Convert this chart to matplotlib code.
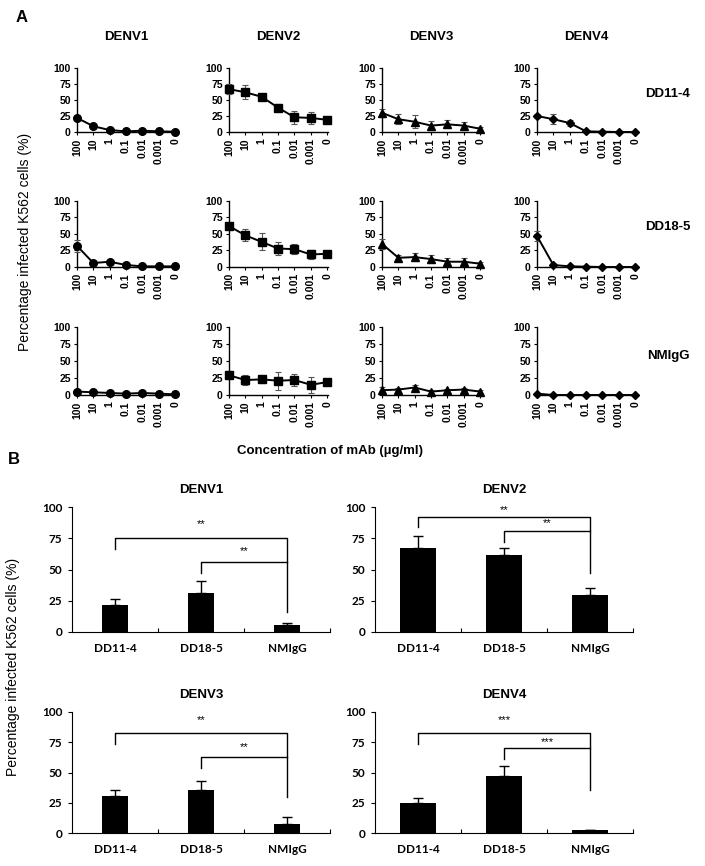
import matplotlib
matplotlib.use("Agg")
import matplotlib.pyplot as plt

plt.rcParams['font.family'] = ['Liberation Sans', 'DejaVu Sans']

W, H = 705, 866

serotypes = ["DENV1", "DENV2", "DENV3", "DENV4"]
mabs = ["DD11-4", "DD18-5", "NMIgG"]
conc_labels = ["100", "10", "1", "0.1", "0.01", "0.001", "0"]

# panel A: % infected per concentration (mean, sd) ; rows = mAb, cols = serotype
dd11_mean = [[22, 9, 3, 1, 2, 1, 0.5],
             [67, 62, 55, 38, 23, 22, 19],
             [30, 20, 16, 10, 12, 10, 5],
             [25, 20, 14, 1, 0.5, 0, 0]]
dd11_err = [[3, 3, 1, 1, 2, 1, 0],
            [8, 11, 5, 5, 10, 9, 2],
            [6, 8, 10, 7, 6, 6, 3],
            [3, 8, 4, 1, 0, 0, 0]]
dd18_mean = [[32, 6, 8, 3, 1, 1, 1],
             [62, 48, 38, 28, 27, 19, 20],
             [35, 14, 15, 12, 8, 8, 5],
             [47, 3, 1, 0.5, 0, 0, 0]]
dd18_err = [[9, 2, 1, 1, 0, 0, 0],
            [5, 9, 13, 10, 8, 7, 2],
            [8, 4, 6, 6, 5, 6, 3],
            [8, 3, 1, 0, 0, 0, 0]]
nmigg_mean = [[5, 4, 3, 2, 3, 2, 1],
              [29, 22, 23, 21, 22, 15, 19],
              [7, 8, 11, 5, 7, 8, 5],
              [2, 0, 0, 0, 0, 0, 0]]
nmigg_err = [[2, 2, 1, 1, 1, 1, 1],
             [6, 8, 5, 13, 9, 12, 2],
             [5, 3, 4, 3, 2, 3, 2],
             [1, 0, 0, 0, 0, 0, 0]]
markers = ["o", "s", "^", "D"]

# panel B: 100 ug/ml (mean, sd)
bar_mean = [[22, 31.5, 5.5], [67, 62, 29.5], [30.5, 35.5, 7.5], [25, 47, 2.5]]
bar_err = [[4.5, 9.5, 2], [9.5, 5.5, 6], [5, 7.5, 6], [4, 8.5, 0]]
stars = ["**", "**", "**", "***"]
# bracket heights: outer (drop, top), inner (drop, top), right drop
outer_br = [[66.7, 75.4], [84, 92], [73.5, 82.6], [73.5, 82.6]]
inner_br = [[47, 56], [72, 80.6], [53.7, 62.8], [61, 70.2]]
right_drop = [16, 47, 30, 35.5]
star_y = [[86, 65], [97.5, 87], [93.4, 71], [93, 75]]


def box(x0, ytop, x1, ybot):
    return [x0 / W, 1 - ybot / H, (x1 - x0) / W, (ybot - ytop) / H]


fig = plt.figure(figsize=(W / 100, H / 100), dpi=100)

# ---------------- panel A ----------------
colx = [77, 229, 382, 537]
row_top = [68, 201, 327]
row_bot = [132, 267, 395]
means = [dd11_mean, dd18_mean, nmigg_mean]
errs = [dd11_err, dd18_err, nmigg_err]

for r in range(3):
    for c in range(4):
        ax = fig.add_axes(box(colx[c], row_top[r], colx[c] + 99, row_bot[r]))
        x = list(range(len(conc_labels)))
        ms = 4.5 if markers[c] == "D" else 5.5
        ax.errorbar(x, means[r][c], yerr=errs[r][c], color="black", ecolor="#555555",
                    elinewidth=0.8, capsize=2.5, capthick=0.8, lw=1.4,
                    marker=markers[c], ms=ms, clip_on=False, zorder=3)
        ax.set_xlim(0, 6.05)
        ax.set_ylim(0, 100)
        ax.set_yticks([0, 25, 50, 75, 100])
        ax.set_xticks(x)
        ax.set_xticklabels(conc_labels, rotation=90, fontsize=7.5, fontweight="bold")
        for t in ax.get_yticklabels():
            t.set_fontsize(7.5)
            t.set_fontweight("bold")
        ax.tick_params(axis="both", direction="out", length=2.5, width=0.8, pad=2)
        for s in ["top", "right"]:
            ax.spines[s].set_visible(False)
        for s in ["left", "bottom"]:
            ax.spines[s].set_linewidth(1.0)
        if r == 0:
            ax.set_title(serotypes[c], fontsize=9.5, fontweight="bold", pad=20)

for r in range(3):
    fig.text(668 / W, 1 - [94, 227, 356][r] / H, mabs[r], fontsize=9.5,
             fontweight="bold", ha="center", va="center")

fig.text(22 / W, 1 - 18 / H, "A", fontsize=12, fontweight="bold", ha="center", va="center")
fig.text(25 / W, 1 - 242 / H, "Percentage infected K562 cells (%)", rotation=90,
         fontsize=10, ha="center", va="center")
fig.text(330 / W, 1 - 451 / H, "Concentration of mAb (\u00b5g/ml)", fontsize=9.5,
         fontweight="bold", ha="center", va="center")

# ---------------- panel B ----------------
bx0 = [72, 375]
bx1 = [330, 633]
b_top = [507, 712]
b_bot = [632, 833]
bar_w = [0.31, 0.42]

for i in range(4):
    r, c = divmod(i, 2)
    ax = fig.add_axes(box(bx0[c], b_top[r], bx1[c], b_bot[r]))
    xs = list(range(len(mabs)))
    ax.bar(xs, bar_mean[i], width=bar_w[c], color="black",
           yerr=[[0] * 3, bar_err[i]], capsize=3.5,
           error_kw=dict(elinewidth=1.0, capthick=1.0, ecolor="black"))
    ax.plot([0, 0, 2, 2], [outer_br[i][0], outer_br[i][1], outer_br[i][1], right_drop[i]],
            color="black", lw=1.0)
    ax.plot([1, 1, 2], [inner_br[i][0], inner_br[i][1], inner_br[i][1]], color="black", lw=1.0)
    ax.text(1, star_y[i][0], stars[i], ha="center", va="center", fontsize=8)
    ax.text(1.5, star_y[i][1], stars[i], ha="center", va="center", fontsize=8)
    ax.set_xlim(-0.5, 2.5)
    ax.set_ylim(0, 100)
    ax.set_yticks([0, 25, 50, 75, 100])
    ax.set_yticklabels(["0", "25", "50", "75", "100"], family="Lato", fontweight="bold", fontsize=8.5)
    ax.set_xticks([0.5, 1.5, 2.5])
    ax.set_xticklabels([])
    ax.set_xticks(xs, minor=True)
    ax.set_xticklabels(mabs, minor=True, family="Lato", fontweight="bold", fontsize=8.5)
    ax.tick_params(axis="x", which="major", direction="in", length=3, width=0.8)
    ax.tick_params(axis="x", which="minor", length=0, pad=8)
    ax.tick_params(axis="y", direction="out", length=3, width=0.8, pad=4)
    for s in ["top", "right"]:
        ax.spines[s].set_visible(False)
    ax.set_title(serotypes[i], fontsize=9.5, fontweight="bold", pad=10)

fig.text(14 / W, 1 - 460 / H, "B", fontsize=12, fontweight="bold", ha="center", va="center")
fig.text(13 / W, 1 - 667 / H, "Percentage infected K562 cells (%)", rotation=90,
         fontsize=10, ha="center", va="center")

fig.savefig("out.png", dpi=100)
